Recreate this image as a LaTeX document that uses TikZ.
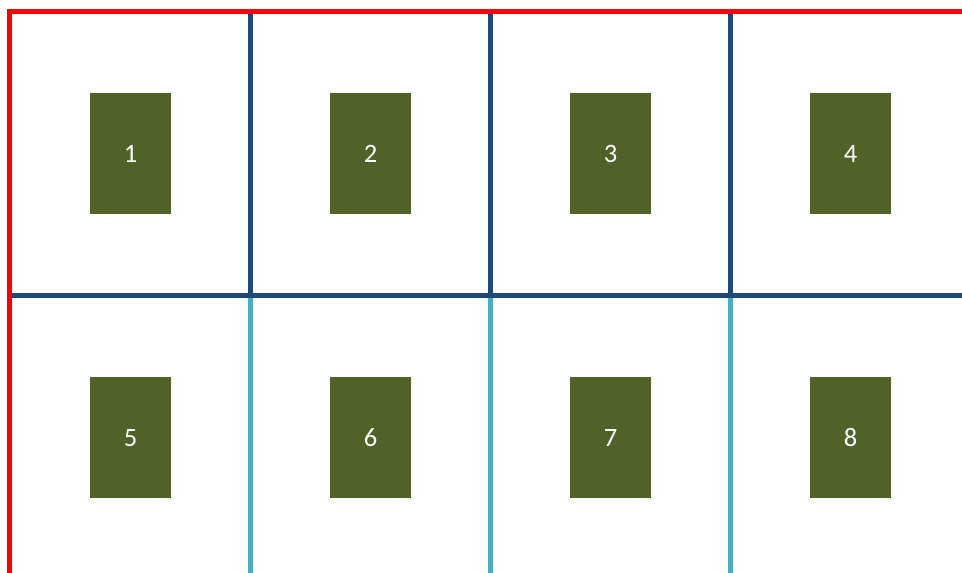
\documentclass[tikz,border=0pt]{standalone}
\usepackage{fontspec}
\setmainfont{Carlito}
\definecolor{redline}{HTML}{FF0000}
\definecolor{darkline}{HTML}{1F497D}
\definecolor{lightline}{HTML}{4BACC6}
\definecolor{boxgreen}{HTML}{4F6228}
\tikzset{
  cellbox/.style={fill=boxgreen, draw=none, minimum width=81pt, minimum height=121pt, inner sep=0pt,
    text=white, font=\fontsize{26.5}{26.5}\selectfont, text height=17pt, text depth=-1pt},
  redborder/.style={draw=redline, line width=4.8pt},
  darkrule/.style={draw=darkline, line width=4.8pt},
  lightrule/.style={draw=lightline, line width=4.8pt},
}
\begin{document}
\begin{tikzpicture}[x=1pt,y=-1pt]
\useasboundingbox (0,0) rectangle (962,573);
% boxes
\foreach \i/\cx/\cy in {1/130.5/153.5, 2/370.5/153.5, 3/610.5/153.5, 4/850.5/153.5,
                        5/130.5/437.5, 6/370.5/437.5, 7/610.5/437.5, 8/850.5/437.5}
  \node[cellbox] (b\i) at (\cx,\cy) {\i};
% coordinates for rules
\coordinate (tl) at (9.5,11.5);
\coordinate (tr) at (962,11.5);
\coordinate (bl) at (9.5,573);
\coordinate (ml) at (12,295.5);
\coordinate (mr) at (962,295.5);
\foreach \k/\x in {1/250.5, 2/490.5, 3/730.5} {
  \coordinate (vt\k) at (\x,14);
  \coordinate (vm\k) at (\x,293);
  \coordinate (vl\k) at (\x,298);
  \coordinate (vb\k) at (\x,573);
}
% light blue verticals (lower row)
\foreach \k in {1,2,3}
  \draw[lightrule] (vl\k) -- (vb\k);
% dark blue verticals (upper row)
\foreach \k in {1,2,3}
  \draw[darkrule] (vt\k) -- (vm\k);
% horizontal middle rule
\draw[darkrule] (ml) -- (mr);
% red border
\draw[redborder] (bl) -- (tl) -- (tr);
\end{tikzpicture}
\end{document}
